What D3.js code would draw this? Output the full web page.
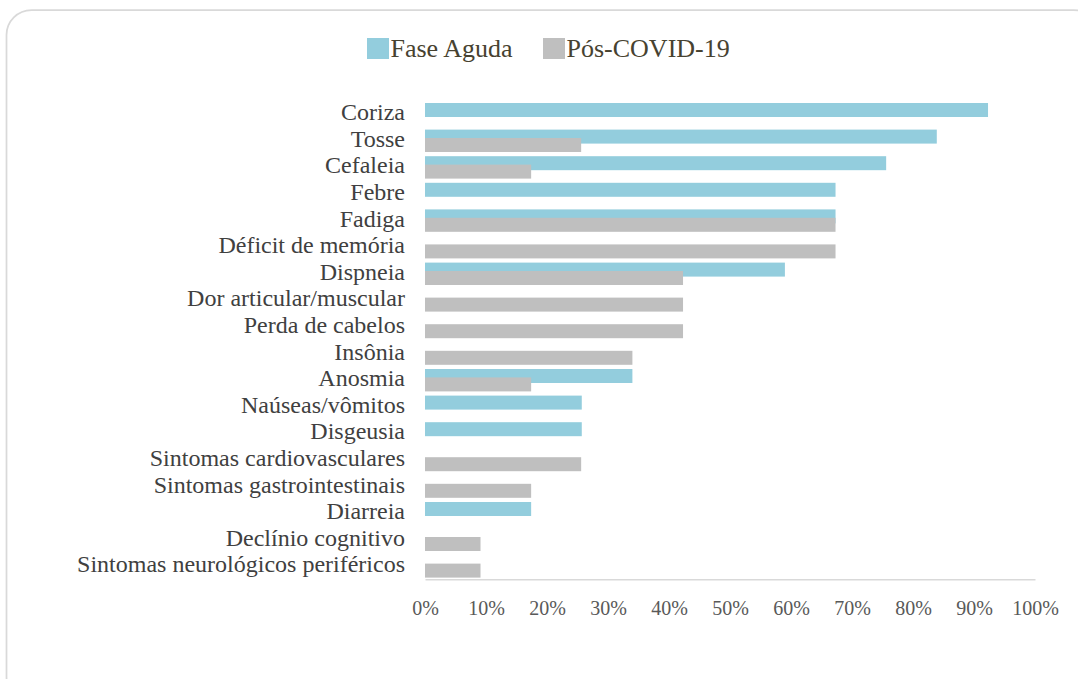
<!DOCTYPE html>
<html>
<head>
<meta charset="utf-8">
<script src="https://cdn.jsdelivr.net/npm/d3@7"></script>
<style>
  html, body { margin: 0; padding: 0; background: #ffffff; }
  svg { display: block; }
</style>
</head>
<body>
<svg id="chart" width="1078" height="679"></svg>
<script>
const categories = [
  "Coriza", "Tosse", "Cefaleia", "Febre", "Fadiga", "Déficit de memória",
  "Dispneia", "Dor articular/muscular", "Perda de cabelos", "Insônia",
  "Anosmia", "Naúseas/vômitos", "Disgeusia", "Sintomas cardiovasculares",
  "Sintomas gastrointestinais", "Diarreia", "Declínio cognitivo",
  "Sintomas neurológicos periféricos"
];
const seriesNames = ["Fase Aguda", "Pós-COVID-19"];
const faseAguda = [92.3, 83.9, 75.6, 67.3, 67.3, 0, 59.0, 0, 0, 0, 34.0, 25.7, 25.7, 0, 0, 17.4, 0, 0];
const posCovid  = [0, 25.6, 17.4, 0, 67.3, 67.3, 42.3, 42.3, 42.3, 34.0, 17.4, 0, 0, 25.6, 17.4, 0, 9.1, 9.1];
const tickValues = [0, 10, 20, 30, 40, 50, 60, 70, 80, 90, 100];
const colors = ["#93CDDD", "#BFBFBF"];

const svg = d3.select("#chart");

// outer rounded frame
svg.append("rect")
  .attr("x", 6.5).attr("y", 10)
  .attr("width", 1092).attr("height", 692)
  .attr("rx", 25).attr("ry", 25)
  .attr("fill", "#ffffff")
  .attr("stroke", "#d9d9d9")
  .attr("stroke-width", 1.75);

const x = d3.scaleLinear().domain([0, 100]).range([425, 1035]);
const y = d3.scaleBand().domain(categories).range([100.9, 579.7]).padding(0);
const bw = y.bandwidth();
// sub positions within each band (overlapping bars)
const sub = d3.scaleOrdinal().domain(seriesNames).range([0.079 * bw, 0.395 * bw]);
const barH = 0.526 * bw;

const data = seriesNames.map((s, si) => ({
  name: s,
  color: colors[si],
  values: (si === 0 ? faseAguda : posCovid).map((v, i) => ({ cat: categories[i], v }))
}));

const g = svg.append("g");
data.forEach(s => {
  g.selectAll(null)
    .data(s.values.filter(d => d.v > 0))
    .enter().append("rect")
    .attr("x", x(0))
    .attr("y", d => y(d.cat) + sub(s.name))
    .attr("width", d => x(d.v) - x(0))
    .attr("height", barH)
    .attr("fill", s.color);
});

// category labels
svg.append("g").selectAll("text")
  .data(categories)
  .enter().append("text")
  .attr("x", 405)
  .attr("y", d => y(d) + bw / 2 + 6)
  .attr("text-anchor", "end")
  .attr("font-family", "'Liberation Serif', 'Times New Roman', serif")
  .attr("font-size", 24)
  .attr("fill", "#404040")
  .text(d => d);

// x axis
const xAxis = d3.axisBottom(x)
  .tickValues(tickValues)
  .tickSize(0)
  .tickFormat(d => d + "%");
const ax = svg.append("g")
  .attr("transform", "translate(0,579.3)")
  .call(xAxis);
ax.select(".domain").attr("stroke", "#d9d9d9").attr("stroke-width", 1.5);
ax.selectAll("text")
  .attr("dy", null)
  .attr("y", 36)
  .attr("font-family", "'Liberation Serif', 'Times New Roman', serif")
  .attr("font-size", 20)
  .attr("fill", "#595959");

// legend
const legendX = [367, 543];
const leg = svg.append("g");
seriesNames.forEach((s, i) => {
  leg.append("rect")
    .attr("x", legendX[i]).attr("y", 38)
    .attr("width", 22).attr("height", 21)
    .attr("fill", colors[i]);
  leg.append("text")
    .attr("x", legendX[i] + 23.5)
    .attr("y", 57.3)
    .attr("font-family", "'Liberation Serif', 'Times New Roman', serif")
    .attr("font-size", 26)
    .attr("fill", "#474230")
    .text(s);
});
</script>
</body>
</html>
